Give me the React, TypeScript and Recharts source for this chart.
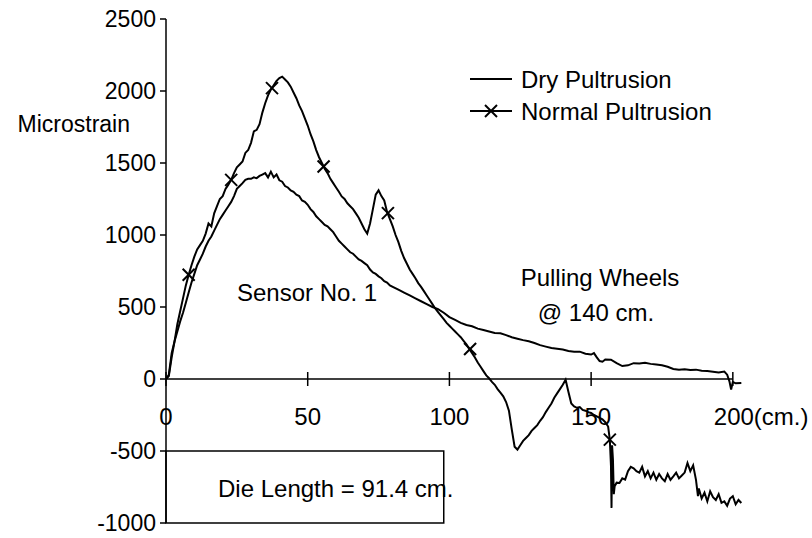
import {
  ComposedChart,
  Line,
  Scatter,
  XAxis,
  YAxis,
  ReferenceLine,
  ReferenceDot,
  ReferenceArea,
} from 'recharts'

// normal pultrusion (line with x markers)
const normalX = [
  0, 1, 2, 3, 4, 5, 6, 7, 8, 9, 10, 11, 12, 13, 14, 15, 16, 17, 18, 19, 20, 21, 22, 23, 24, 25, 26, 27, 28, 29,
  30, 31, 32, 33, 34, 35, 36, 37, 38, 39, 40, 41, 42, 43, 44, 45, 46, 47, 48, 49, 50, 51, 52, 53, 54, 55, 56, 57,
  58, 59, 60, 61, 62, 63, 64, 65, 66, 67, 68, 69, 70, 71, 72, 73, 74, 75, 76, 77, 78, 79, 80, 81, 82, 83, 84, 85,
  86, 87, 88, 89, 90, 91, 92, 93, 94, 95, 96, 97, 98, 99, 100, 101, 102, 103, 104, 105, 106, 107, 108, 109, 110,
  111, 112, 113, 114, 115, 116, 117, 118, 119, 120, 121, 122, 123, 124, 125, 126, 127, 128, 129, 130, 131, 132,
  133, 134, 135, 136, 137, 138, 139, 140, 141, 142, 143, 144, 145, 146, 147, 148, 149, 150, 151, 152, 153, 154,
  155, 156, 156.6, 157, 157.2, 157.4, 157.7, 158, 158.3, 159, 160, 161, 162, 163, 164, 165, 166, 167, 168, 169,
  170, 171, 172, 173, 174, 175, 176, 177, 178, 179, 180, 181, 182, 183, 184, 185, 186, 187, 187.7, 188, 189, 190,
  191, 192, 193, 194, 195, 196, 197, 198, 199, 200, 201, 202, 203,
]
const normalY = [
  0, 20, 150, 260, 380, 470, 560, 650, 724, 790, 850, 900, 930, 960, 1010, 1080, 1060, 1150, 1200, 1250, 1270,
  1320, 1350, 1383, 1430, 1470, 1490, 1510, 1570, 1590, 1640, 1720, 1730, 1770, 1850, 1915, 1970, 2010, 2040,
  2070, 2090, 2100, 2080, 2060, 2030, 1990, 1950, 1900, 1860, 1810, 1760, 1700, 1650, 1590, 1540, 1500, 1460,
  1430, 1390, 1360, 1330, 1300, 1268, 1250, 1220, 1200, 1180, 1150, 1120, 1080, 1040, 1010, 1080, 1180, 1280,
  1310, 1270, 1240, 1160, 1110, 1060, 1000, 950, 890, 840, 800, 760, 730, 700, 666, 640, 610, 580, 550, 520, 490,
  465, 440, 415, 390, 370, 350, 330, 310, 290, 265, 240, 208, 180, 150, 115, 85, 55, 25, 5, -20, -40, -70, -95,
  -120, -160, -220, -350, -470, -490, -460, -430, -410, -390, -360, -340, -320, -290, -265, -230, -200, -170,
  -130, -100, -70, -40, -5, -90, -170, -190, -200, -195, -215, -220, -230, -236, -250, -260, -270, -280, -300,
  -330, -421, -600, -895, -460, -560, -800, -745, -720, -722, -690, -699, -640, -610, -620, -640, -650, -610,
  -676, -640, -690, -650, -700, -660, -690, -710, -660, -700, -676, -650, -690, -670, -650, -583, -640, -600,
  -700, -814, -760, -830, -790, -850, -780, -820, -840, -800, -860, -850, -880, -830, -814, -870, -840, -861,
]

// x markers on the normal curve
const markerX = [8, 23, 37.4, 55.6, 78.3, 107.3, 156.6]
const markerY = [724, 1383, 2020, 1476, 1152, 208, -421]

// dry pultrusion (plain line)
const dryX = [
  0, 1, 2, 3, 4, 5, 6, 7, 8, 9, 10, 11, 12, 13, 14, 15, 16, 17, 18, 19, 20, 21, 22, 23, 24, 25, 26, 27, 28, 29,
  30, 31, 32, 33, 34, 35, 36, 37, 38, 39, 40, 41, 42, 43, 44, 45, 46, 47, 48, 49, 50, 51, 52, 53, 54, 55, 56, 57,
  58, 59, 60, 61, 62, 63, 64, 65, 66, 67, 68, 69, 70, 71, 72, 73, 74, 75, 76, 77, 78, 79, 80, 82, 84, 86, 88, 90,
  92, 94, 96, 98, 100, 102, 104, 106, 108, 110, 112, 114, 116, 118, 120, 122, 124, 126, 128, 130, 132, 134, 136,
  138, 140, 142, 144, 146, 148, 150, 151, 152, 153, 154, 155, 157, 159, 161, 163, 165, 167, 169, 171, 173, 175,
  177, 179, 181, 183, 185, 187, 189, 191, 193, 195, 197, 198, 198.8, 199.4, 200, 201, 203,
]
const dryY = [
  0, 30, 180, 260, 330, 400, 460, 530, 600, 670, 730, 790, 830, 870, 920, 960, 990, 1030, 1070, 1110, 1140, 1170,
  1200, 1230, 1270, 1320, 1340, 1360, 1383, 1390, 1390, 1400, 1395, 1410, 1420, 1430, 1400, 1440, 1400, 1420,
  1380, 1370, 1340, 1330, 1310, 1300, 1280, 1270, 1240, 1230, 1210, 1180, 1160, 1130, 1110, 1090, 1070, 1060,
  1040, 1020, 990, 960, 940, 920, 900, 880, 870, 850, 830, 820, 805, 790, 760, 740, 730, 713, 700, 680, 670, 650,
  640, 620, 600, 580, 560, 540, 520, 500, 485, 460, 430, 410, 390, 375, 366, 350, 340, 330, 320, 318, 305, 290,
  280, 270, 262, 250, 235, 225, 215, 210, 205, 195, 190, 190, 175, 170, 180, 150, 125, 120, 135, 134, 110, 90, 95,
  110, 108, 112, 105, 100, 95, 85, 70, 65, 68, 62, 65, 58, 55, 50, 45, 52, 30, -16, -74, -20, -30, -28,
]

const xTicks = [0, 50, 100, 150, 200]
const yTicks = [-1000, -500, 0, 500, 1000, 1500, 2000, 2500]

const normalData = normalX.map((x, i) => ({ x, y: normalY[i] }))
const dryData = dryX.map((x, i) => ({ x, y: dryY[i] }))
const markerData = markerX.map((x, i) => ({ x, y: markerY[i] }))

const FONT = 'Liberation Sans, Arial, sans-serif'
const FS = 24

function Cross({ cx, cy }: any) {
  return (
    <g stroke='#000' strokeWidth={2}>
      <line x1={cx - 6} y1={cy - 6} x2={cx + 6} y2={cy + 6} />
      <line x1={cx - 6} y1={cy + 6} x2={cx + 6} y2={cy - 6} />
    </g>
  )
}

function XTick({ cx, cy, value }: any) {
  const last = value === 200
  return (
    <g>
      <line x1={cx} y1={cy - 7} x2={cx} y2={cy + 7} stroke='#000' strokeWidth={1.5} />
      <text
        x={last ? cx - 19 : cx}
        y={cy + 37}
        dy='0.355em'
        textAnchor={last ? 'start' : 'middle'}
        fontSize={FS}
        fill='#000'
      >
        {last ? '200(cm.)' : value}
      </text>
    </g>
  )
}

export default function App() {
  return (
    <div style={{ position: 'absolute', left: 0, top: 0, fontFamily: FONT }}>
      <ComposedChart
        width={812}
        height={538}
        margin={{ top: 19, right: 65, bottom: 15, left: 106 }}
        style={{ fontFamily: FONT }}
      >
        <XAxis dataKey='x' type='number' domain={[0, 205]} hide allowDataOverflow />
        <YAxis
          dataKey='y'
          type='number'
          width={60}
          domain={[-1000, 2500]}
          ticks={yTicks}
          interval={0}
          stroke='#000'
          tickSize={6}
          tickMargin={4}
          tick={{ fontSize: 23, fill: '#000' }}
          axisLine={{ stroke: '#000', strokeWidth: 1.5 }}
          tickLine={{ stroke: '#000', strokeWidth: 1.5 }}
        />
        <ReferenceLine
          segment={[{ x: 0, y: 0 }, { x: 200, y: 0 }]}
          stroke='#000'
          strokeWidth={1.5}
        />
        <ReferenceArea
          x1={0}
          x2={98}
          y1={-1000}
          y2={-500}
          fill='none'
          fillOpacity={0}
          stroke='#000'
          strokeWidth={1.5}
        />
        {xTicks.map((t) => (
          <ReferenceDot
            key={t}
            x={t}
            y={0}
            r={0}
            shape={(p: any) => <XTick cx={p.cx} cy={p.cy} value={t} />}
          />
        ))}
        <Line
          data={dryData}
          dataKey='y'
          type='linear'
          stroke='#000'
          strokeWidth={2}
          dot={false}
          isAnimationActive={false}
        />
        <Line
          data={normalData}
          dataKey='y'
          type='linear'
          stroke='#000'
          strokeWidth={2}
          dot={false}
          isAnimationActive={false}
        />
        <Scatter
          data={markerData}
          dataKey='y'
          shape={(p: any) => <Cross cx={p.cx} cy={p.cy} />}
          isAnimationActive={false}
        />

        {/* labels */}
        <text x={130} y={124} dy='0.355em' textAnchor='end' fontSize={23} fill='#000'>
          Microstrain
        </text>
        <text x={237} y={292} dy='0.355em' fontSize={FS} fill='#000'>
          Sensor No. 1
        </text>
        <text x={600} y={277} dy='0.355em' textAnchor='middle' fontSize={FS} fill='#000'>
          Pulling Wheels
        </text>
        <text x={596} y={312} dy='0.355em' textAnchor='middle' fontSize={FS} fill='#000'>
          @ 140 cm.
        </text>
        <text x={218} y={488} dy='0.355em' fontSize={FS} fill='#000'>
          Die Length = 91.4 cm.
        </text>

        {/* legend */}
        <line x1={470} y1={79} x2={512} y2={79} stroke='#000' strokeWidth={2} />
        <text x={521} y={79} dy='0.355em' fontSize={FS} fill='#000'>
          Dry Pultrusion
        </text>
        <line x1={470} y1={111} x2={512} y2={111} stroke='#000' strokeWidth={2} />
        <Cross cx={491} cy={111} />
        <text x={521} y={111} dy='0.355em' fontSize={FS} fill='#000'>
          Normal Pultrusion
        </text>
      </ComposedChart>
    </div>
  )
}
